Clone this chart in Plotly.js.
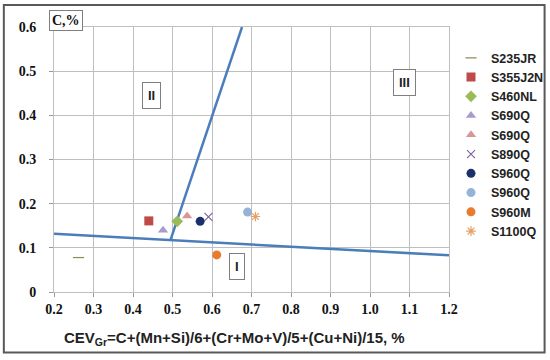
<!DOCTYPE html>
<html>
<head>
<meta charset="utf-8">
<script src="https://cdn.plot.ly/plotly-3.0.1.min.js"></script>
<style>html,body{margin:0;padding:0;background:#fff;}#chart{width:550px;height:360px;}</style>
</head>
<body>
<div id="chart"></div>
<script>
// Steel grades (legend order) and their points
var grades = ["S235JR", "S355J2N", "S460NL", "S690Q", "S690Q", "S890Q", "S960Q", "S960Q", "S960M", "S1100Q"];
var cevValues = [0.262, 0.440, 0.512, 0.476, 0.537, 0.591, 0.570, 0.690, 0.612, 0.710];
var carbonValues = [0.078, 0.161, 0.160, 0.140, 0.172, 0.170, 0.160, 0.181, 0.084, 0.171];
var gradeColors = ["#948A54", "#BE4B48", "#9BBB59", "#A99BCC", "#D99694", "#8064A2", "#1B2F6B", "#95B3D7", "#E97B2C", "#E6A064"];
var gradeSymbols = ["line-ew", "square", "diamond", "triangle-up", "triangle-up", "x-thin", "circle", "circle", "circle", "asterisk-open"];

// Graville diagram boundary lines
var boundaryX = [0.2, 1.2];
var boundaryY = [0.132, 0.083];
var steepX = [0.495, 0.676];
var steepY = [0.118, 0.6];

// Ticks
var xTickVals = [0.2, 0.3, 0.4, 0.5, 0.6, 0.7, 0.8, 0.9, 1.0, 1.1, 1.2];
var xTickText = ["0.2", "0.3", "0.4", "0.5", "0.6", "0.7", "0.8", "0.9", "1.0", "1.1", "1.2"];
var yTickVals = [0, 0.1, 0.2, 0.3, 0.4, 0.5, 0.6];
var yTickText = ["0", "0.1", "0.2", "0.3", "0.4", "0.5", "0.6"];

// Zone labels
var zoneText = ["II", "III", "I"];
var zoneX = [0.447, 1.088, 0.6625];
var zoneY = [0.444, 0.475, 0.057];

var lineColor = "#4A7EBB";
var traces = [];
traces.push({x: boundaryX, y: boundaryY, mode: "lines", line: {color: lineColor, width: 2.5}, showlegend: false, hoverinfo: "skip"});
traces.push({x: steepX, y: steepY, mode: "lines", line: {color: lineColor, width: 2.5}, showlegend: false, hoverinfo: "skip"});
for (var i = 0; i < grades.length; i++) {
  var sym = gradeSymbols[i];
  var thin = (sym === "line-ew" || sym === "x-thin" || sym === "asterisk-open");
  traces.push({
    x: [cevValues[i]], y: [carbonValues[i]], name: grades[i], mode: "markers",
    marker: {
      symbol: sym, color: gradeColors[i],
      size: sym === "diamond" ? 9 : (thin ? 8 : 9),
      line: thin ? {color: gradeColors[i], width: 1.2} : {width: 0}
    }
  });
}

var serifBold = {family: "Liberation Serif, Times New Roman, serif", size: 14, color: "#111", weight: "bold"};
var sansBold = {family: "Liberation Sans, Arial, sans-serif", size: 13, color: "#222", weight: "bold"};
var annotations = [];
annotations.push({xref: "paper", yref: "paper", x: 0.0296, y: 1.023, text: "C,%", showarrow: false,
  font: serifBold, bgcolor: "#fff", bordercolor: "#7F7F7F", borderwidth: 1, borderpad: 2, xanchor: "center", yanchor: "middle"});
for (var k = 0; k < zoneText.length; k++) {
  annotations.push({xref: "x", yref: "y", x: zoneX[k], y: zoneY[k], text: zoneText[k], showarrow: false,
    font: sansBold, bgcolor: "#fff", bordercolor: "#7F7F7F", borderwidth: 1, borderpad: 5,
    xanchor: "center", yanchor: "middle"});
}
annotations.push({xref: "paper", yref: "paper", x: 0.457, y: -0.175,
  text: "CEV<sub>Gr</sub>=C+(Mn+Si)/6+(Cr+Mo+V)/5+(Cu+Ni)/15, %", showarrow: false,
  font: {family: "Liberation Sans, Arial, sans-serif", size: 15, color: "#222", weight: "bold"}, xanchor: "center", yanchor: "middle"});

var layout = {
  width: 550, height: 360,
  margin: {l: 54, r: 101, t: 27, b: 68, autoexpand: false},
  paper_bgcolor: "#fff", plot_bgcolor: "#fff",
  showlegend: true,
  legend: {x: 0.82, y: 0.88, xref: "container", yref: "container", xanchor: "left", yanchor: "top", bgcolor: "rgba(0,0,0,0)",
    font: {family: "Liberation Sans, Arial, sans-serif", size: 12.5, color: "#222", weight: "bold"},
    tracegroupgap: 0, itemwidth: 30, maxheight: 320},
  xaxis: {range: [0.2, 1.2], tickvals: xTickVals, ticktext: xTickText, showgrid: true, gridcolor: "#BFBFBF", gridwidth: 1,
    zeroline: false, showline: true, linecolor: "#BFBFBF", mirror: true, ticks: "outside", ticklen: 4, tickcolor: "#999",
    tickfont: serifBold, fixedrange: true, automargin: false},
  yaxis: {range: [0, 0.6], tickvals: yTickVals, ticktext: yTickText, showgrid: true, gridcolor: "#BFBFBF", gridwidth: 1,
    zeroline: false, showline: true, linecolor: "#BFBFBF", mirror: true, ticks: "outside", ticklen: 4, tickcolor: "#999",
    tickfont: serifBold, ticklabelstandoff: 10, fixedrange: true, automargin: false},
  annotations: annotations,
  shapes: [{type: "rect", xref: "paper", yref: "paper", x0: -0.127, x1: 1.242, y0: -0.228, y1: 1.083,
    line: {color: "#595959", width: 2}, fillcolor: "rgba(0,0,0,0)", layer: "below"}]
};

Plotly.newPlot("chart", traces, layout, {displayModeBar: false, staticPlot: true});
</script>
</body>
</html>
